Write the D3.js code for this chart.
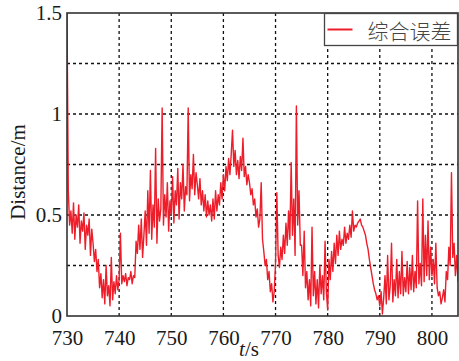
<!DOCTYPE html>
<html>
<head>
<meta charset="utf-8">
<script src="https://cdn.jsdelivr.net/npm/d3@7"></script>
<style>
  body { margin: 0; background: #fff; }
  svg { display: block; }
  .tick-label { font-family: "Liberation Serif", "Times New Roman", serif; font-size: 21px; fill: #1a1a1a; }
</style>
</head>
<body>
<svg id="chart"></svg>
<script>
// time axis: one reading every 0.25 s from 730 s to 805 s
const tStart = 730;
const tStep = 0.25;
const distance = [
  1.50, 0.62, 0.45, 0.52, 0.41, 0.56, 0.38, 0.50, 0.44, 0.55, 0.36, 0.47, 0.42, 0.51, 0.33, 0.45, 0.40, 0.48, 0.30, 0.43,
  0.36, 0.27, 0.33, 0.22, 0.28, 0.14, 0.21, 0.09, 0.18, 0.06, 0.25, 0.10, 0.15, 0.05, 0.29, 0.08, 0.17, 0.11, 0.20, 0.13,
  0.18, 0.41, 0.16, 0.20, 0.17, 0.21, 0.15, 0.19, 0.18, 0.22, 0.16, 0.20, 0.19, 0.37, 0.31, 0.45, 0.33, 0.48, 0.29, 0.40,
  0.52, 0.35, 0.62, 0.41, 0.72, 0.38, 0.55, 0.44, 0.83, 0.36, 0.58, 0.47, 0.53, 1.03, 0.45, 0.60, 0.49, 0.66, 0.42, 0.57,
  0.50, 0.69, 0.46, 0.62, 0.55, 0.73, 0.48, 0.66, 0.58, 0.75, 0.52, 0.64, 0.60, 1.03, 0.57, 0.70, 0.63, 0.80, 0.60, 0.71,
  0.65, 0.58, 0.68, 0.55, 0.62, 0.52, 0.60, 0.49, 0.57, 0.50, 0.55, 0.47, 0.58, 0.48, 0.62, 0.52, 0.60, 0.55, 0.66, 0.58,
  0.70, 0.62, 0.74, 0.67, 0.78, 0.70, 0.80, 0.92, 0.74, 0.82, 0.70, 0.77, 0.68, 0.79, 0.72, 0.88, 0.69, 0.74, 0.65, 0.70,
  0.66, 0.60, 0.63, 0.55, 0.58, 0.49, 0.53, 0.44, 0.48, 0.66, 0.38, 0.32, 0.25, 0.28, 0.18, 0.22, 0.12, 0.16, 0.07, 0.12,
  0.26, 0.61, 0.30, 0.24, 0.34, 0.28, 0.40, 0.31, 0.46, 0.35, 0.52, 0.38, 0.76, 0.40, 0.58, 0.30, 1.04, 0.45, 0.62, 0.35,
  0.35, 0.20, 0.42, 0.14, 0.22, 0.08, 0.18, 0.05, 0.44, 0.10, 0.22, 0.06, 0.18, 0.04, 0.25, 0.11, 0.20, 0.08, 0.37, 0.12,
  0.03, 0.28, 0.18, 0.32, 0.22, 0.36, 0.26, 0.40, 0.30, 0.42, 0.33, 0.38, 0.35, 0.44, 0.36, 0.41, 0.38, 0.45, 0.39, 0.52,
  0.42, 0.45, 0.44, 0.46, 0.47, 0.48, 0.45, 0.44, 0.42, 0.40, 0.36, 0.33, 0.28, 0.24, 0.20, 0.16, 0.13, 0.11, 0.08, 0.10,
  0.05, 0.12, 0.01, 0.09, 0.20, 0.06, 0.30, 0.08, 0.15, 0.36, 0.07, 0.18, 0.10, 0.28, 0.09, 0.22, 0.11, 0.32, 0.10, 0.19,
  0.12, 0.27, 0.11, 0.24, 0.13, 0.30, 0.12, 0.22, 0.14, 0.57, 0.16, 0.26, 0.15, 0.58, 0.17, 0.40, 0.20, 0.47, 0.18, 0.34,
  0.20, 0.28, 0.16, 0.36, 0.14, 0.10, 0.12, 0.06, 0.09, 0.13, 0.07, 0.22, 0.18, 0.34, 0.25, 0.71, 0.29, 0.36, 0.20, 0.30,
  0.17
];
const xTicks = [730, 740, 750, 760, 770, 780, 790, 800];
const yTicks = [0, 0.5, 1, 1.5];
const yGrid = [0.25, 0.5, 0.75, 1, 1.25];
const legendLabel = "综合误差";

class LineChart {
  constructor(_config, _data) {
    this.config = {
      parentElement: _config.parentElement,
      containerWidth: _config.containerWidth || 459,
      containerHeight: _config.containerHeight || 361,
      margin: { top: 13, bottom: 45, right: 1, left: 67 }
    };
    this.data = _data;
    this.initVis();
  }

  initVis() {
    let vis = this;
    vis.width = vis.config.containerWidth - vis.config.margin.left - vis.config.margin.right;
    vis.height = vis.config.containerHeight - vis.config.margin.top - vis.config.margin.bottom;

    vis.xValue = d => d.t;
    vis.yValue = d => d.v;

    vis.xScale = d3.scaleLinear().domain([730, 805]).range([0, vis.width]);
    vis.yScale = d3.scaleLinear().domain([0, 1.5]).range([vis.height, 0]);

    vis.svg = d3.select(vis.config.parentElement)
      .attr('width', vis.config.containerWidth)
      .attr('height', vis.config.containerHeight);

    vis.chart = vis.svg.append('g')
      .attr('transform', `translate(${vis.config.margin.left},${vis.config.margin.top})`);

    // dashed grid
    vis.chart.append('g').selectAll('line.vgrid')
      .data(xTicks.slice(1))
      .join('line')
      .attr('x1', d => vis.xScale(d)).attr('x2', d => vis.xScale(d))
      .attr('y1', 0).attr('y2', vis.height)
      .attr('stroke', '#111').attr('stroke-width', 1.3).attr('stroke-dasharray', '3,3');

    vis.chart.append('g').selectAll('line.hgrid')
      .data(yGrid)
      .join('line')
      .attr('y1', d => vis.yScale(d)).attr('y2', d => vis.yScale(d))
      .attr('x1', 0).attr('x2', vis.width)
      .attr('stroke', '#111').attr('stroke-width', 1.3).attr('stroke-dasharray', '3,3');

    vis.chart.append('clipPath').attr('id', 'plot-clip')
      .append('rect').attr('width', vis.width).attr('height', vis.height);

    vis.line = d3.line()
      .x(d => vis.xScale(vis.xValue(d)))
      .y(d => vis.yScale(vis.yValue(d)));

    vis.chart.append('path')
      .datum(vis.data)
      .attr('clip-path', 'url(#plot-clip)')
      .attr('stroke', '#ee1d2a')
      .attr('stroke-width', 1.4)
      .attr('stroke-linejoin', 'round')
      .attr('fill', 'none')
      .attr('d', vis.line);

    // frame
    vis.chart.append('rect')
      .attr('width', vis.width).attr('height', vis.height)
      .attr('fill', 'none').attr('stroke', '#333').attr('stroke-width', 1.6);

    vis.xAxis = d3.axisBottom(vis.xScale).tickValues(xTicks).tickSize(0).tickPadding(14).tickFormat(d3.format('d'));
    vis.yAxis = d3.axisLeft(vis.yScale).tickValues(yTicks).tickSize(0).tickPadding(5).tickFormat(d => d);

    vis.xAxisG = vis.chart.append('g')
      .attr('class', 'axis x-axis')
      .attr('transform', `translate(0,${vis.height})`)
      .call(vis.xAxis);
    vis.yAxisG = vis.chart.append('g')
      .attr('class', 'axis y-axis')
      .call(vis.yAxis);
    vis.chart.selectAll('.axis .domain').remove();
    vis.chart.selectAll('.axis text')
      .attr('class', 'tick-label')
      .attr('font-family', null).attr('font-size', null).attr('fill', null);

    // axis titles
    vis.svg.append('text')
      .attr('class', 'tick-label')
      .attr('transform', 'translate(25,172) rotate(-90)')
      .attr('text-anchor', 'middle')
      .text('Distance/m');

    const xt = vis.svg.append('text')
      .attr('class', 'tick-label')
      .attr('x', 249).attr('y', 356)
      .attr('text-anchor', 'middle');
    xt.append('tspan').attr('font-style', 'italic').text('t');
    xt.append('tspan').text('/s');

    // legend
    const lg = vis.svg.append('g').attr('transform', 'translate(324.5,13.5)');
    lg.append('rect')
      .attr('width', 133).attr('height', 32)
      .attr('fill', '#fff').attr('stroke', '#444').attr('stroke-width', 1.3);
    lg.append('line')
      .attr('x1', 3).attr('x2', 28).attr('y1', 16).attr('y2', 16)
      .attr('stroke', '#ee1d2a').attr('stroke-width', 2);
    lg.append('text')
      .attr('x', 43).attr('y', 25)
      .attr('font-family', '"Noto Sans CJK SC", sans-serif')
      .attr('font-size', 21).attr('font-weight', 300)
      .attr('fill', '#444')
      .text(legendLabel);
  }
}

const series = distance.map((v, i) => ({ t: tStart + i * tStep, v: v }));
new LineChart({ parentElement: '#chart' }, series);
</script>
</body>
</html>
